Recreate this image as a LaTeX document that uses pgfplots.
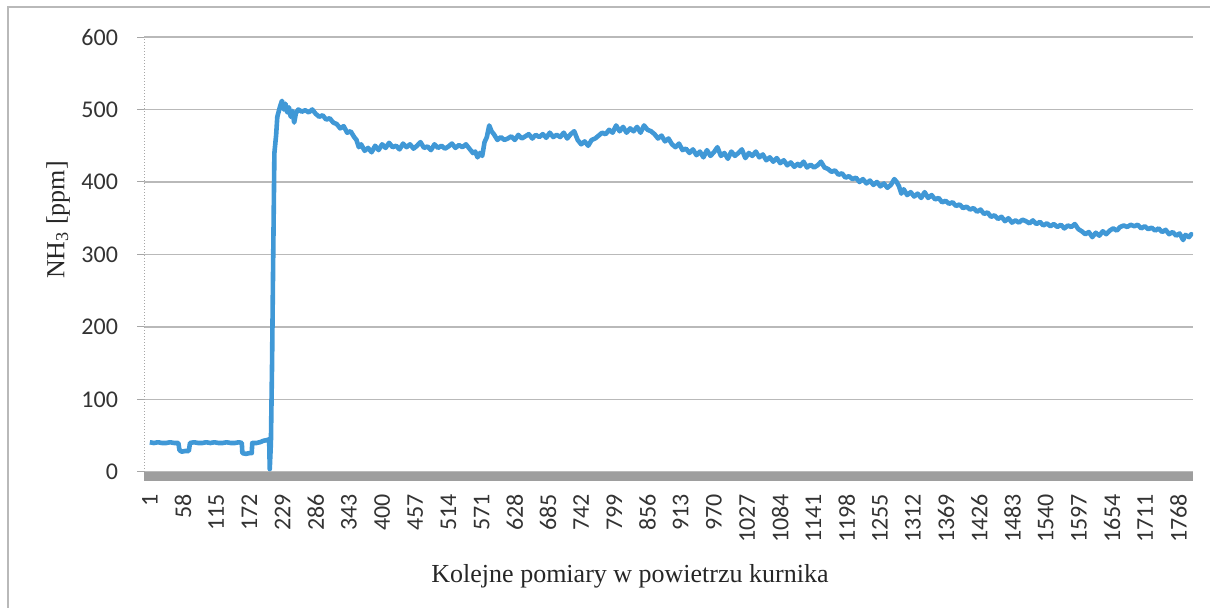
\documentclass[border=0pt]{standalone}
\usepackage{fontspec}
\setmainfont{Liberation Serif}
\newfontfamily\carlito{Carlito}
\usepackage{pgfplots}
\pgfplotsset{compat=1.18}
\definecolor{lineblue}{RGB}{64,152,214}
\definecolor{bandgray}{RGB}{158,158,158}
\begin{document}
\begin{tikzpicture}[x=1pt,y=1pt]
\useasboundingbox (0,0) rectangle (605,304);
\draw[gray!55, line width=0.6pt] (4,-20) rectangle (640,300.5);
\begin{axis}[
  at={(72pt,68pt)}, anchor=south west, scale only axis,
  width=524.5pt, height=217.5pt,
  xmin=-9, xmax=1793, ymin=0, ymax=600,
  ytick={0,100,...,600},
  xtick={1,58,...,1768},
  axis lines*=left,
  x axis line style={draw=none},
  y axis line style={gray!70, densely dotted, line width=0.5pt},
  ymajorgrids, grid style={gray!55, line width=0.6pt},
  tick align=outside, major tick length=3.5pt,
  ytick style={gray!70, line width=0.5pt},
  xtick style={draw=none},
  /pgf/number format/assume math mode=true,
  yticklabel style={font=\carlito\fontsize{12}{12}\selectfont, text=black!80, xshift=-6pt},
  xticklabel style={font=\carlito\fontsize{12}{12}\selectfont, text=black!80, rotate=90, anchor=east},
  xticklabel shift=4pt,
  scaled x ticks=false,
  /pgf/number format/1000 sep={},
]
\addplot[lineblue, line width=2.3pt, line join=round] coordinates {
(1,41) (8,40) (15,41) (22,40) (29,40) (36,41) (43,40) (50,40) (52,30) (56,28) (62,29) (68,29) (70,40)
(77,41) (84,40) (91,40) (98,41) (105,40) (112,41) (119,40) (126,40) (133,41) (140,40) (147,40) (154,41)
(159,40) (160,26) (166,25) (172,26) (176,26) (177,40) (184,40) (190,41) (196,43) (202,44) (206,45)
(207,4) (209,40) (211,150) (213,300) (215,440) (218,465) (220,490)
(222,496) (225,505) (228,512) (231,500) (234,508) (237,496) (240,503) (243,490) (246,498) (249,482)
(252,495) (256,500) (262,497) (268,499) (274,496) (280,500) (286,494) (292,490) (298,492) (304,486)
(310,488) (316,482) (322,480) (328,474) (334,477) (340,468) (346,470) (352,462) (356,458) (360,448)
(364,452) (370,443) (376,447) (382,441) (388,450) (394,444) (400,452) (406,447) (412,454) (418,448)
(424,450) (430,445) (436,453) (442,448) (448,452) (454,446) (460,450) (466,455) (472,447) (478,449)
(484,444) (490,452) (496,447) (502,450) (508,446) (514,449) (520,453) (526,447) (532,451) (538,448)
(544,452) (550,446) (556,440) (560,442) (564,434) (568,440) (572,436) (576,455) (580,462) (584,478)
(588,470) (592,466) (598,458) (604,462) (610,458) (616,460) (622,463) (628,458) (634,465) (640,460)
(646,463) (652,466) (658,460) (664,465) (670,462) (676,466) (682,461) (688,468) (694,462) (700,465)
(706,462) (712,468) (718,460) (724,466) (730,470) (736,458) (742,452) (748,456) (754,450) (760,458)
(766,460) (772,464) (778,468) (784,466) (790,472) (796,468) (802,478) (808,470) (814,476) (820,468)
(826,474) (832,470) (838,476) (844,468) (850,478) (856,472) (862,470) (868,466) (874,460) (880,464)
(886,456) (892,460) (898,452) (904,448) (910,453) (916,444) (922,446) (928,440) (934,445) (940,437)
(946,442) (952,434) (958,444) (964,436) (970,441) (976,448) (982,436) (988,440) (994,432) (1000,442)
(1006,436) (1012,440) (1018,445) (1024,433) (1030,440) (1036,436) (1042,442) (1048,434) (1054,438)
(1060,430) (1066,434) (1072,428) (1078,433) (1084,426) (1090,430) (1096,423) (1102,427) (1108,421)
(1114,425) (1118,422) (1124,428) (1130,420) (1136,424) (1142,420) (1148,423) (1154,428) (1160,420)
(1166,418) (1172,414) (1178,416) (1184,410) (1190,412) (1196,406) (1202,408) (1208,404) (1214,406)
(1220,400) (1226,404) (1232,398) (1238,402) (1244,396) (1250,400) (1256,394) (1262,398) (1268,392)
(1274,396) (1280,404) (1284,400) (1288,394) (1292,384) (1296,390) (1302,382) (1308,386) (1314,380)
(1320,384) (1326,378) (1332,386) (1338,378) (1344,382) (1350,376) (1356,378) (1362,372) (1368,374)
(1374,370) (1380,372) (1386,367) (1392,369) (1398,364) (1404,366) (1410,362) (1416,364) (1422,359)
(1428,362) (1434,356) (1440,358) (1446,352) (1452,354) (1458,349) (1464,352) (1470,346) (1476,350)
(1482,344) (1488,347) (1494,344) (1500,348) (1506,346) (1512,343) (1518,347) (1524,342) (1530,345)
(1536,340) (1542,343) (1548,339) (1554,342) (1560,338) (1566,341) (1572,336) (1578,340) (1584,338)
(1590,342) (1596,335) (1602,332) (1608,328) (1614,331) (1620,324) (1626,330) (1632,326) (1638,332)
(1644,328) (1650,333) (1656,336) (1662,333) (1668,338) (1674,340) (1680,338) (1686,341) (1692,339)
(1698,341) (1704,336) (1710,339) (1716,335) (1722,337) (1728,333) (1734,336) (1740,331) (1746,334)
(1752,328) (1758,331) (1764,326) (1770,329) (1776,320) (1780,327) (1786,324) (1790,328) (1793,326)
};
\end{axis}
\draw[bandgray, line width=4.5pt] (72,65.75) -- (596.5,65.75);
\node[font=\fontsize{13}{15}\selectfont, anchor=base, text=black!85] at (315,12.5) {Kolejne pomiary w powietrzu kurnika};
\node[font=\fontsize{13}{15}\selectfont, rotate=90, text=black!85] at (29,194) {NH\textsubscript{3} [ppm]};
\end{tikzpicture}
\end{document}
